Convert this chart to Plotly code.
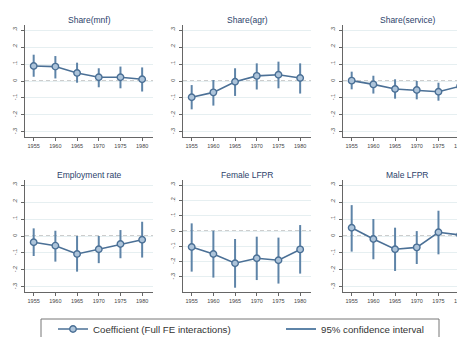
import plotly.graph_objects as go

years = [1955, 1960, 1965, 1970, 1975, 1980]

titles = ["Share(mnf)", "Share(agr)", "Share(service)",
          "Employment rate", "Female LFPR", "Male LFPR"]

coef_mnf = [0.088, 0.085, 0.047, 0.022, 0.022, 0.010]
lo_mnf = [0.025, 0.015, -0.010, -0.037, -0.043, -0.062]
hi_mnf = [0.155, 0.147, 0.108, 0.075, 0.085, 0.080]

coef_agr = [-0.096, -0.067, -0.004, 0.030, 0.037, 0.018]
lo_agr = [-0.167, -0.145, -0.088, -0.050, -0.043, -0.074]
hi_agr = [-0.024, 0.006, 0.075, 0.104, 0.114, 0.104]

coef_srv = [0.002, -0.020, -0.047, -0.053, -0.063, -0.031]
lo_srv = [-0.049, -0.074, -0.104, -0.108, -0.116, -0.096]
hi_srv = [0.055, 0.031, 0.010, 0.000, -0.010, 0.030]

coef_emp = [-0.037, -0.057, -0.106, -0.078, -0.047, -0.022]
lo_emp = [-0.118, -0.151, -0.210, -0.160, -0.131, -0.127]
hi_emp = [0.045, 0.031, 0.000, 0.000, 0.035, 0.084]

coef_fem = [-0.104, -0.150, -0.210, -0.178, -0.191, -0.120]
lo_fem = [-0.265, -0.304, -0.370, -0.320, -0.343, -0.278]
hi_fem = [0.050, 0.002, -0.052, -0.037, -0.043, 0.039]

coef_male = [0.049, -0.018, -0.078, -0.067, 0.022, 0.006]
lo_male = [-0.092, -0.137, -0.206, -0.165, -0.108, -0.104]
hi_male = [0.182, 0.100, 0.049, 0.029, 0.149, 0.112]

ytick_vals = [-0.3, -0.2, -0.1, 0, 0.1, 0.2, 0.3]
ytick_text = ["-.3", "-.2", "-.1", "0", ".1", ".2", ".3"]

panels = [
    (coef_mnf, lo_mnf, hi_mnf),
    (coef_agr, lo_agr, hi_agr),
    (coef_srv, lo_srv, hi_srv),
    (coef_emp, lo_emp, hi_emp),
    (coef_fem, lo_fem, hi_fem),
    (coef_male, lo_male, hi_male),
]

W, H = 465, 337
OFF = 8  # page body margin offset


def fx(px):
    return (px - OFF) / W


def fy(py):
    return 1 - (py - OFF) / H


# pixel layout of plot areas (screen coordinates)
x_px = [(25, 153), (183, 311), (343, 471)]
y_px = [(25, 137), (180, 292)]
yranges = [[-0.33, 0.33]] * 4 + [[-0.398, 0.333], [-0.33, 0.33]]

LINE = "#4b7096"
CI = "#5e84a8"
MFILL = "#adc4da"
FONT = "Liberation Sans"

fig = go.Figure()
for i, (coef, lo, hi) in enumerate(panels):
    r, c = divmod(i, 3)
    ax = "" if i == 0 else str(i + 1)
    xs, ys = [], []
    for yr, a, b in zip(years, lo, hi):
        xs += [yr, yr, None]
        ys += [a, b, None]
    fig.add_trace(go.Scatter(
        x=xs, y=ys, mode="lines", line=dict(color=CI, width=2),
        name="95% confidence interval", showlegend=(i == 0), legendrank=2,
        xaxis="x" + ax, yaxis="y" + ax, hoverinfo="skip"))
    fig.add_trace(go.Scatter(
        x=years, y=coef, mode="lines+markers",
        line=dict(color=LINE, width=1.6),
        marker=dict(symbol="circle", size=6.5, color=MFILL,
                    line=dict(color=LINE, width=1.4)),
        name="Coefficient (Full FE interactions)", showlegend=(i == 0),
        legendrank=1, xaxis="x" + ax, yaxis="y" + ax))

    x0, x1 = x_px[c]
    y0, y1 = y_px[r]
    tfont = dict(family=FONT, size=5.5, color="#444")
    fig.layout["xaxis" + ax] = dict(
        domain=[fx(x0), min(fx(x1), 1.0)], range=[1953.0, 1982.5],
        anchor="y" + ax,
        tickvals=years, ticktext=[str(y) for y in years],
        ticks="outside", ticklen=3, tickcolor="#666", tickfont=tfont,
        showline=True, linecolor="#666", linewidth=1, showgrid=False,
        zeroline=False, fixedrange=True)
    fig.layout["yaxis" + ax] = dict(
        domain=[fy(y1), fy(y0)], range=yranges[i], anchor="x" + ax,
        tickvals=ytick_vals, ticktext=ytick_text, tickangle=-90,
        ticks="outside", ticklen=3, tickcolor="#666", tickfont=tfont,
        ticklabelstandoff=2,
        showline=True, linecolor="#666", linewidth=1,
        showgrid=True, gridcolor="#e6eff1", gridwidth=1,
        zeroline=False, fixedrange=True)
    fig.add_shape(type="line", xref="x" + ax + " domain", yref="y" + ax,
                  x0=0, x1=1, y0=0, y1=0, layer="below",
                  line=dict(color="#9a9a9a", width=1, dash="4px,3px"))
    fig.add_annotation(text=titles[i], xref="paper", yref="paper",
                       x=fx((x0 + x1) / 2), y=fy(y0 - 5),
                       xanchor="center", yanchor="middle", showarrow=False,
                       font=dict(family=FONT, size=8.5, color="#2c3f6b"))

# legend box
fig.add_shape(type="rect", xref="paper", yref="paper",
              x0=fx(41), x1=fx(439), y0=fy(319), y1=-0.2,
              line=dict(color="#777", width=1), fillcolor="rgba(0,0,0,0)")

fig.update_layout(
    width=W, height=H,
    margin=dict(l=0, r=0, t=0, b=0, autoexpand=False),
    paper_bgcolor="white", plot_bgcolor="white",
    font=dict(family=FONT, color="#333"),
    showlegend=True,
    legend=dict(orientation="h", x=fx(53), y=fy(329),
                xanchor="left", yanchor="middle",
                entrywidth=183, entrywidthmode="pixels",
                font=dict(family=FONT, size=9.7, color="#333"),
                bgcolor="rgba(0,0,0,0)", borderwidth=0,
                traceorder="normal"),
)

fig.write_html("out.html")
